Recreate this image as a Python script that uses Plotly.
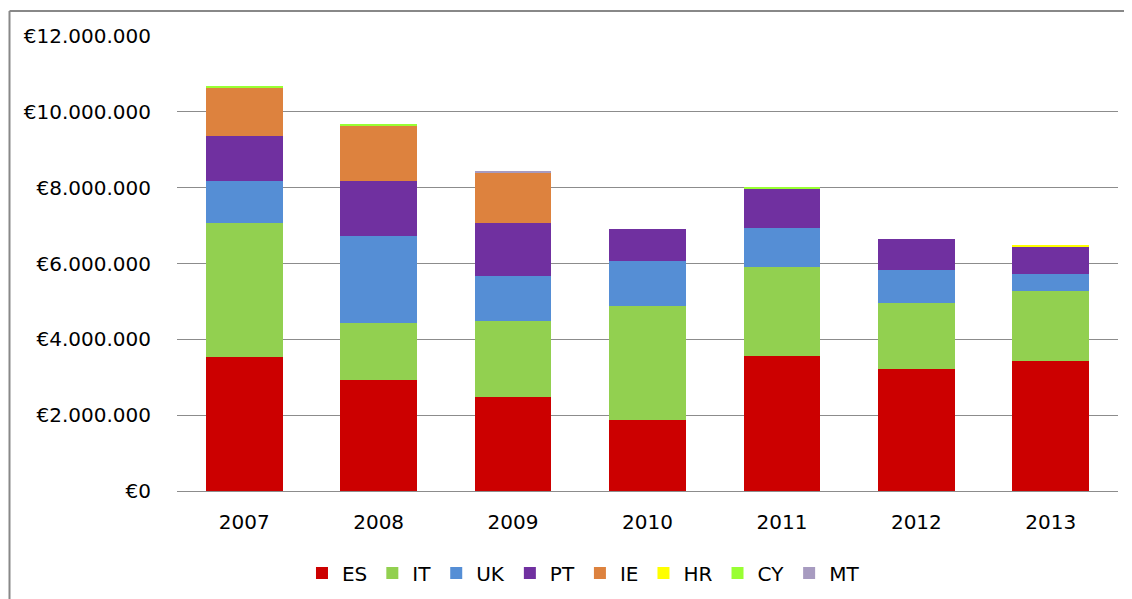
import plotly.graph_objects as go

# Años
anios = ["2007", "2008", "2009", "2010", "2011", "2012", "2013"]

# Importes por país (euros)
es = [3530000, 2930000, 2480000, 1870000, 3560000, 3220000, 3430000]
it = [3540000, 1500000, 2000000, 3010000, 2350000, 1740000, 1840000]
uk = [1110000, 2290000, 1190000, 1190000, 1030000, 870000, 450000]
pt = [1180000, 1460000, 1400000, 840000, 1050000, 820000, 710000]
ie = [1270000, 1450000, 1340000, 0, 0, 0, 0]
hr = [0, 0, 0, 0, 0, 0, 60000]
cy = [40000, 30000, 0, 0, 30000, 0, 0]
mt = [0, 0, 20000, 0, 0, 0, 0]

series = [
    ("ES", es, "#CC0000"),
    ("IT", it, "#92D050"),
    ("UK", uk, "#558ED5"),
    ("PT", pt, "#7030A0"),
    ("IE", ie, "#DD823E"),
    ("HR", hr, "#FFFF00"),
    ("CY", cy, "#99FF33"),
    ("MT", mt, "#A79BC0"),
]

fig = go.Figure()
for nombre, valores, color in series:
    fig.add_trace(go.Bar(x=anios, y=valores, name=nombre, marker_color=color,
                         marker_line_width=0))

ticks = [0, 2000000, 4000000, 6000000, 8000000, 10000000, 12000000]
etiquetas = ["€" + f"{v:,}".replace(",", ".") for v in ticks]

# marco gris (solo borde superior e izquierdo visibles)
marco = dict(color="#888888", width=2)

# la página tiene 8px de margen en el body, se compensa aquí
fig.update_layout(
    barmode="stack",
    bargap=0.43,
    width=1124,
    height=591,
    margin=dict(l=169, r=14, t=28, b=108),
    plot_bgcolor="white",
    paper_bgcolor="white",
    font=dict(family="DejaVu Sans", size=20, color="#000000"),
    legend=dict(orientation="h", traceorder="normal",
                xref="container", x=0.512, xanchor="center",
                yref="container", y=0.044, yanchor="middle",
                font=dict(size=20), itemwidth=30, tracegroupgap=0),
    xaxis=dict(showgrid=False, showline=False, ticks="", ticklabelstandoff=17),
    yaxis=dict(range=[0, 12000000], tickvals=ticks, ticktext=etiquetas,
               showgrid=True, gridcolor="#8C8C8C", gridwidth=1,
               zeroline=True, zerolinecolor="#8C8C8C", zerolinewidth=1,
               ticklabelstandoff=25, showline=False),
    shapes=[
        dict(type="line", xref="paper", yref="paper",
             x0=-0.178, x1=1.2, y0=1.055, y1=1.055, line=marco),
        dict(type="line", xref="paper", yref="paper",
             x0=-0.178, x1=-0.178, y0=-0.5, y1=1.055, line=marco),
    ],
)

fig.write_html("out.html")
